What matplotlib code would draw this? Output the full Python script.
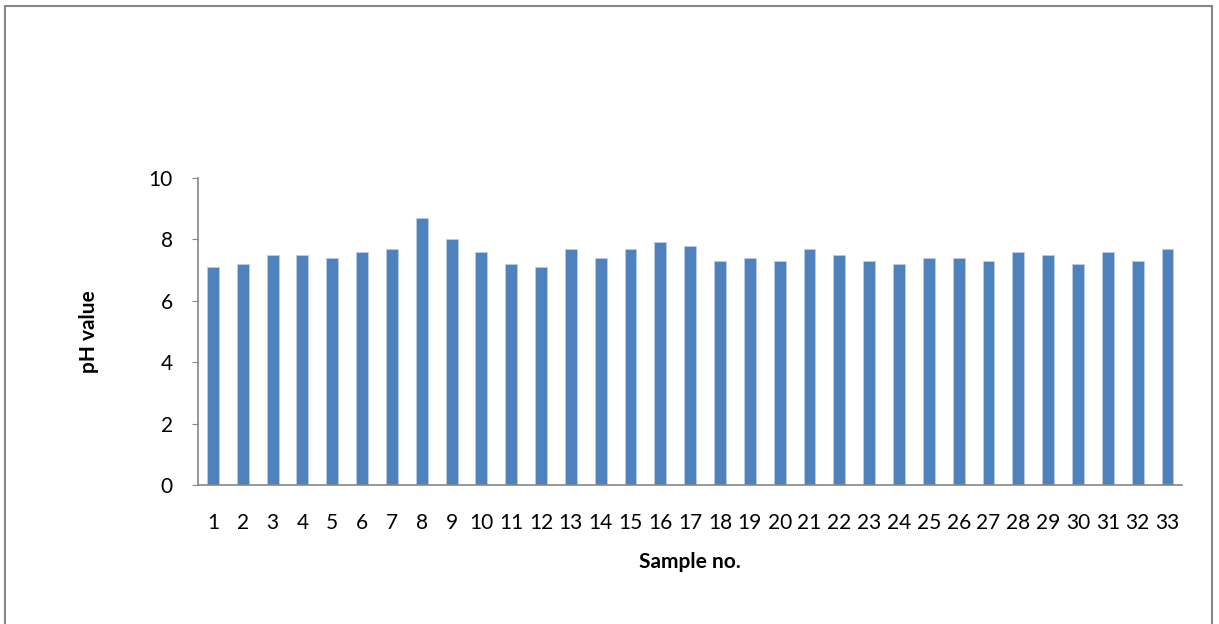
import numpy as np
import matplotlib.pyplot as plt
from matplotlib.patches import Rectangle

plt.rcParams['font.family'] = ['Lato', 'DejaVu Sans']

samples = [str(i) for i in range(1, 34)]
ph = [7.1, 7.2, 7.5, 7.5, 7.4, 7.6, 7.7, 8.7, 8.0, 7.6, 7.2, 7.1, 7.7, 7.4,
      7.7, 7.9, 7.8, 7.3, 7.4, 7.3, 7.7, 7.5, 7.3, 7.2, 7.4, 7.4, 7.3, 7.6,
      7.5, 7.2, 7.6, 7.3, 7.7]
yticks = [0, 2, 4, 6, 8, 10]

fig = plt.figure(figsize=(12.19, 6.24), dpi=100)
ax = fig.add_axes([0.1624, 0.2228, 0.8076, 0.4919])

x = np.arange(len(samples))
ax.bar(x, ph, width=0.4, color='#4F81BD', edgecolor='#B9CDE5', linewidth=0.6)

ax.set_xlim(-0.5, len(samples) - 0.5)
ax.set_ylim(0, 10)
ax.set_yticks(yticks)
ax.set_xticks(x)
ax.set_xticklabels(samples)
ax.tick_params(axis='x', length=0, labelsize=15, pad=20)
ax.tick_params(axis='y', length=4, color='#868686', labelsize=15, pad=14)

for side in ['top', 'right']:
    ax.spines[side].set_visible(False)
for side in ['left', 'bottom']:
    ax.spines[side].set_color('#868686')
    ax.spines[side].set_linewidth(1.2)

ax.set_xlabel('Sample no.', fontsize=15, fontweight='bold', labelpad=14)
ax.set_ylabel('pH value', fontsize=15, fontweight='bold', labelpad=36)

# outer chart border
fig.patches.append(Rectangle((5 / 1219, -0.01), 1207 / 1219, 1 - 6 / 624 + 0.01,
                             transform=fig.transFigure, fill=False,
                             edgecolor='#868686', linewidth=1.5))

fig.savefig('out.png', dpi=100)
